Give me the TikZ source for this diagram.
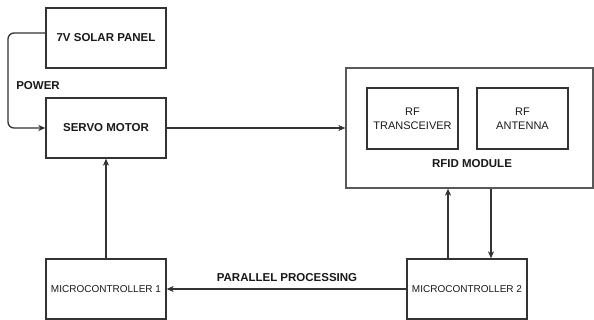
\documentclass[tikz,border=0pt]{standalone}
\usepackage{fontspec}
\setmainfont{Liberation Sans}
\usetikzlibrary{arrows.meta}

\begin{document}
\begin{tikzpicture}[x=1pt, y=-1pt,
		blockbox/.style={draw=black!80, line width=1.3pt, inner sep=0pt, align=center, text=black!90},
		boldtext/.style={font=\fontsize{11.5}{14}\selectfont\bfseries, text=black!90},
		flow/.style={draw=black!80, line width=1.3pt, -{Stealth[length=7pt, width=6pt, inset=2pt]}}]
	\useasboundingbox (0,0) rectangle (594,320);
	% power side
	\node[blockbox, minimum width=120pt, minimum height=60pt, font=\fontsize{11.5}{14}\selectfont\bfseries] (solar) at (106,38) {7V SOLAR PANEL};
	\node[blockbox, minimum width=120pt, minimum height=60pt, font=\fontsize{11.5}{14}\selectfont\bfseries] (servo) at (106,128) {SERVO MOTOR};
	% rfid module with its two parts
	\node[blockbox, draw=black!65, minimum width=247pt, minimum height=120pt] (rfid) at (469.5,128) {};
	\node[blockbox, minimum width=91pt, minimum height=61pt, font=\fontsize{11}{14}\selectfont] (trx) at (412.5,118.5) {RF\\TRANSCEIVER};
	\node[blockbox, minimum width=91pt, minimum height=61pt, font=\fontsize{11}{14}\selectfont] (ant) at (522.5,118.5) {RF\\ANTENNA};
	\node[boldtext] (rfidlabel) at (472,164) {RFID MODULE};
	% controllers
	\node[blockbox, minimum width=120pt, minimum height=60pt, font=\fontsize{10}{12}\selectfont] (mcu1) at (106,289) {MICROCONTROLLER 1};
	\node[blockbox, minimum width=120pt, minimum height=60pt, font=\fontsize{10}{12}\selectfont] (mcu2) at (467,289) {MICROCONTROLLER 2};

	\coordinate (bend) at (8,80);
	\coordinate (upline) at (448,0);
	\coordinate (downline) at (491,0);

	\draw[flow, rounded corners=6pt] ([yshift=5pt]solar.west) -| (bend) |- (servo.west);
	\node[boldtext] (power) at (38,86) {POWER};
	\draw[flow] (servo.east) -- (rfid.west);
	\draw[flow] (mcu1.north) -- (servo.south);
	\draw[flow] (mcu2.west) -- (mcu1.east);
	\node[boldtext] (parallel) at (287,278) {PARALLEL PROCESSING};
	\draw[flow] (mcu2.north -| upline) -- (rfid.south -| upline);
	\draw[flow] (rfid.south -| downline) -- (mcu2.north -| downline);
\end{tikzpicture}
\end{document}
